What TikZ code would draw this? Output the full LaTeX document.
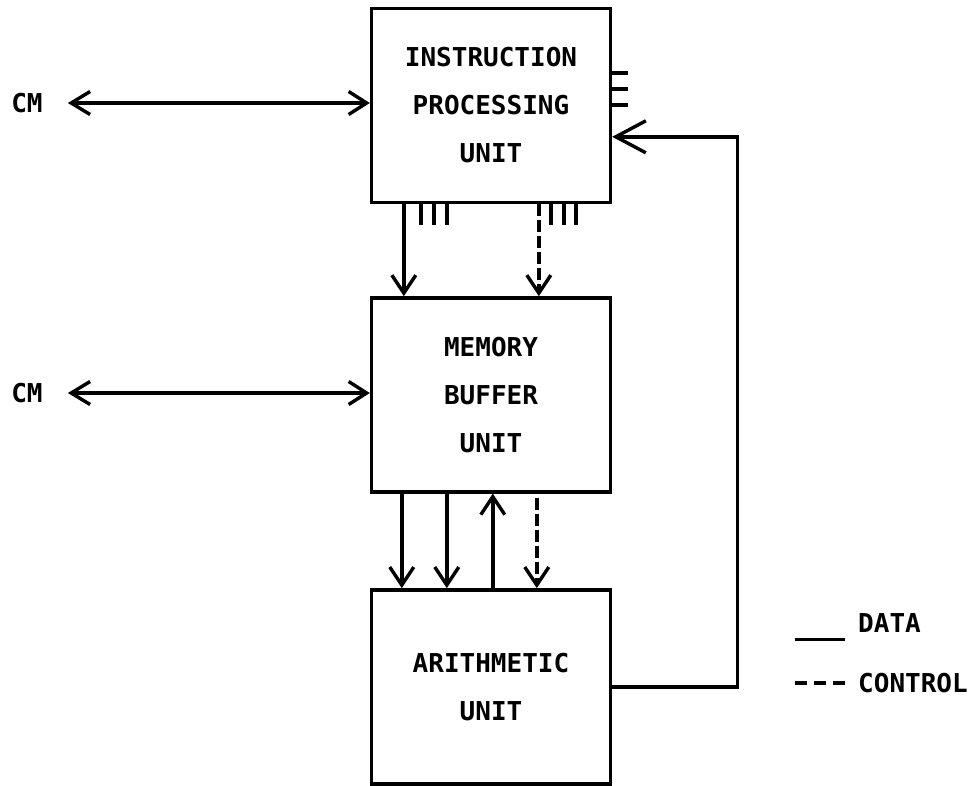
\documentclass[tikz,border=0pt]{standalone}
\usepackage{fontspec}
\usepackage{xcolor}
\usepackage{tikz}
\usetikzlibrary{
arrows.meta,
positioning,
calc
}
\newfontfamily\unitfont{DejaVu Sans Mono}

\begin{document}
\begin{tikzpicture}[
x=1pt,y=-1pt,
font=\unitfont\bfseries\fontsize{26}{48}\selectfont,
unit/.style={
draw,
line width=3.4pt,
minimum width=239pt,
minimum height=194pt,
inner sep=0pt,
align=center
},
data/.style={line width=3.4pt},
control/.style={line width=3.4pt,dash pattern=on 12pt off 4pt},
flow/.style={-{Straight Barb[length=18pt,width=24pt]}},
bothway/.style={{Straight Barb[length=19pt,width=23pt]}-{Straight Barb[length=18pt,width=23pt]}},
feedback/.style={data,-{Straight Barb[length=30pt,width=32pt]}}
]

\useasboundingbox (0,0) rectangle (969,785);

\node[unit] (ipu) at (491,105.5) {
INSTRUCTION\\
PROCESSING\\
UNIT
};

\node[unit,below=92pt of ipu] (mbu) {
MEMORY\\
BUFFER\\
UNIT
};

\node[unit,below=94.5pt of mbu] (au) {
ARITHMETIC\\
UNIT
};

\node[inner sep=0pt] (cmi) at (27,103) {CM};
\node[inner sep=0pt] (cmm) at (27,393) {CM};

% legend
\node[inner sep=0pt,anchor=west] (datalbl) at (858,623) {DATA};
\node[inner sep=0pt,anchor=west] (ctrllbl) at (858,683) {CONTROL};
\draw[data] ([xshift=-63pt,yshift=-7pt]datalbl.base west) -- ++(50,0);
\draw[data,dash pattern=on 12pt off 7pt] ([xshift=-63pt]ctrllbl.west) -- ++(50,0);

% CM links
\draw[data,bothway,shorten <=25pt] (cmi.east) -- (cmi.east -| ipu.west);
\draw[data,bothway,shorten <=25pt] (cmm.east) -- (cmm.east -| mbu.west);

% ipu -> mbu
\draw[data,flow] ([xshift=34pt]ipu.south west) -- ([xshift=34pt]mbu.north west);
\draw[control,flow] ([xshift=169pt]ipu.south west) -- ([xshift=169pt]mbu.north west);
\foreach \dx in {51,64,77,181,194,206}
  \draw[data] ([xshift=\dx pt]ipu.south west) -- ++(0,21);
\foreach \dy in {66,82,98}
  \draw[data] ([yshift=-\dy pt]ipu.north east) -- ++(16,0);

% mbu <-> au
\draw[data,flow] ([xshift=32pt]mbu.south west) -- ([xshift=32pt]au.north west);
\draw[data,flow] ([xshift=77pt]mbu.south west) -- ([xshift=77pt]au.north west);
\draw[data,flow] ([xshift=123pt]au.north west) -- ([xshift=123pt]mbu.south west);
\draw[control,flow,dash phase=12pt] ([xshift=167pt]mbu.south west) -- ([xshift=167pt]au.north west);

% au -> ipu
\coordinate (fbturn) at ($(ipu.north east)+(125,130)$);
\draw[feedback] (au.east) -| (fbturn) -- (fbturn -| ipu.east);

\end{tikzpicture}
\end{document}
